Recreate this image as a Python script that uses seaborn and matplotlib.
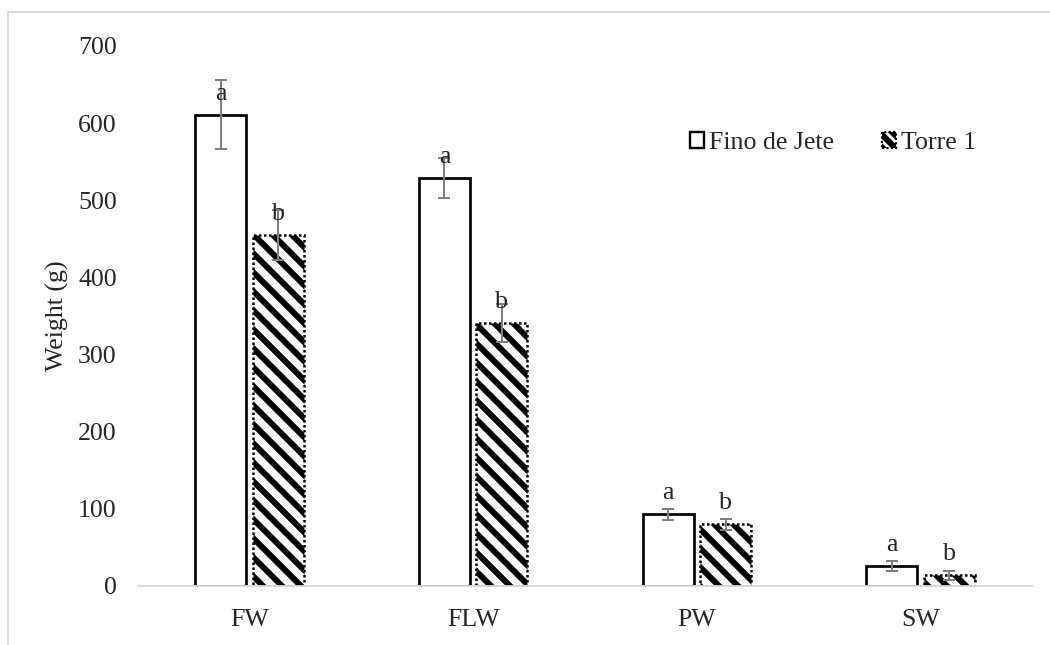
import pandas as pd
import matplotlib.pyplot as plt
import seaborn as sns
from matplotlib.patches import Patch
from matplotlib.lines import Line2D

# data
traits = ["FW", "FLW", "PW", "SW"]
cultivars = ["Fino de Jete", "Torre 1"]
fino_mean = [611, 529, 93, 26]
torre_mean = [455, 341, 80, 14]
fino_err = [45, 26, 7, 6]
torre_err = [32, 25, 7, 6]
fino_letters = ["a", "a", "a", "a"]
torre_letters = ["b", "b", "b", "b"]

df = pd.DataFrame({
    "Trait": traits * 2,
    "Cultivar": [cultivars[0]] * 4 + [cultivars[1]] * 4,
    "Weight": fino_mean + torre_mean,
})

DPI = 114


def px(v):
    # pixel size -> points at this dpi
    return v * 72 / DPI


sns.set_style("white")
plt.rcParams["font.family"] = ["Liberation Serif", "DejaVu Serif"]
plt.rcParams["hatch.linewidth"] = px(6)

FS = px(25.9)
fig = plt.figure(figsize=(1050 / DPI, 645 / DPI), dpi=DPI)
ax = fig.add_axes([137.7 / 1050, 1 - 586 / 645, 894.6 / 1050, 540 / 645])

sns.barplot(data=df, x="Trait", y="Weight", hue="Cultivar", order=traits,
            hue_order=cultivars, palette=["white", "white"], width=0.514,
            gap=0.113, errorbar=None, legend=False, ax=ax)

fino_bars, torre_bars = ax.containers[0], ax.containers[1]
for bar in fino_bars:
    bar.set_edgecolor("black")
    bar.set_linewidth(px(2.7))
for bar in torre_bars:
    bar.set_edgecolor("black")
    bar.set_linewidth(px(2.5))
    bar.set_linestyle((0, (1, 1)))
    bar.set_hatch("\\\\")

for bars, errs, letters in [(fino_bars, fino_err, fino_letters),
                            (torre_bars, torre_err, torre_letters)]:
    xs = [b.get_x() + b.get_width() / 2 for b in bars]
    ys = [b.get_height() for b in bars]
    ax.errorbar(xs, ys, yerr=errs, fmt="none", ecolor="#7f7f7f",
                elinewidth=px(2), capsize=px(5.6), capthick=px(2), zorder=5)
    for x, y, t in zip(xs, ys, letters):
        ax.annotate(t, (x, y), xytext=(0, px(21)), textcoords="offset points",
                    ha="center", va="center", fontsize=FS, zorder=6)

ax.set_ylim(0, 700)
ax.set_yticks(range(0, 701, 100))
ax.set_xlim(-0.5, 3.5)
ax.set_xlabel("")
ax.set_ylabel("Weight (g)", fontsize=FS)
ax.yaxis.set_label_coords(-0.077, 0.5)
ax.tick_params(axis="both", length=0, labelsize=FS)
ax.tick_params(axis="y", pad=px(21))
ax.tick_params(axis="x", pad=px(23))

for s in ["top", "right", "left"]:
    ax.spines[s].set_visible(False)
ax.spines["bottom"].set_color("#d9d9d9")
ax.spines["bottom"].set_linewidth(px(1.8))
ax.spines["bottom"].set_zorder(4)

handles = [
    Patch(facecolor="white", edgecolor="black", linewidth=px(2.4)),
    Patch(facecolor="white", edgecolor="black", linewidth=px(2.2),
          linestyle=(0, (1, 1)), hatch="\\\\\\"),
]
ax.legend(handles, cultivars, loc="center left", bbox_to_anchor=(0.617, 0.82),
          ncol=2, frameon=False, fontsize=FS, handlelength=0.55,
          handleheight=0.55, handletextpad=0.2, columnspacing=1.85,
          borderpad=0, borderaxespad=0)

# outer chart-area frame (only left and top edges are inside the picture)
fig.add_artist(Line2D([8 / 1050, 8 / 1050], [0, 1 - 12 / 645],
                      transform=fig.transFigure, color="#d9d9d9", lw=px(1.8)))
fig.add_artist(Line2D([8 / 1050, 1], [1 - 12 / 645, 1 - 12 / 645],
                      transform=fig.transFigure, color="#d9d9d9", lw=px(1.8)))

fig.savefig("out.png", dpi=DPI)
